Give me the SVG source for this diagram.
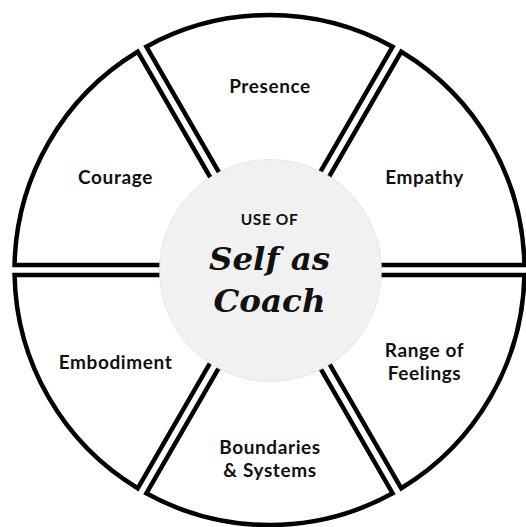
<svg xmlns="http://www.w3.org/2000/svg" width="526" height="527" viewBox="0 0 526 527">
  <style>
    .wedge { fill: #ffffff; stroke: #000000; stroke-width: 4.5; stroke-linejoin: miter; }
    .label { font-family: Lato, "Open Sans", "Liberation Sans", sans-serif; font-weight: 700; font-size: 19px; fill: #111111; text-anchor: middle; letter-spacing: 0.6px; }
    .kicker { font-family: Lato, "Open Sans", "Liberation Sans", sans-serif; font-weight: 700; font-size: 15.5px; fill: #111111; text-anchor: middle; letter-spacing: 0.6px; }
    .title { font-family: "DejaVu Serif", "Liberation Serif", serif; font-weight: 700; font-style: italic; font-size: 32.5px; fill: #111111; text-anchor: middle; }
  </style>
  <defs>
    <!-- one 60-degree slice pointing up, edges pulled in 5px so neighbours leave a gap -->
    <path id="wedge" d="M0,-10 L123.15,-223.29 A255,255 0 0 0 -123.15,-223.29 Z"/>
  </defs>

  <rect width="526" height="527" fill="#ffffff"/>

  <g id="presence">
    <use href="#wedge" class="wedge" transform="translate(269.5 270)"/>
    <text class="label" x="270" y="93">Presence</text>
  </g>

  <g id="empathy">
    <use href="#wedge" class="wedge" transform="translate(269.5 270) rotate(60)"/>
    <text class="label" x="424.5" y="184">Empathy</text>
  </g>

  <g id="range-of-feelings">
    <use href="#wedge" class="wedge" transform="translate(269.5 270) rotate(120)"/>
    <text class="label" x="424.5" y="357">Range of</text>
    <text class="label" x="424.5" y="380">Feelings</text>
  </g>

  <g id="boundaries-systems">
    <use href="#wedge" class="wedge" transform="translate(269.5 270) rotate(180)"/>
    <text class="label" x="270" y="453.5">Boundaries</text>
    <text class="label" x="270" y="476.5">&amp; Systems</text>
  </g>

  <g id="embodiment">
    <use href="#wedge" class="wedge" transform="translate(269.5 270) rotate(240)"/>
    <text class="label" x="115.5" y="369">Embodiment</text>
  </g>

  <g id="courage">
    <use href="#wedge" class="wedge" transform="translate(269.5 270) rotate(300)"/>
    <text class="label" x="115.5" y="184">Courage</text>
  </g>

  <g id="hub">
    <circle cx="270.5" cy="270.5" r="111" fill="#f1f1f1" stroke="#dedede" stroke-width="0.7"/>
    <text class="kicker" x="269.5" y="225">USE OF</text>
    <text class="title" x="269.5" y="270">Self as</text>
    <text class="title" x="269.5" y="311.5">Coach</text>
  </g>
</svg>
